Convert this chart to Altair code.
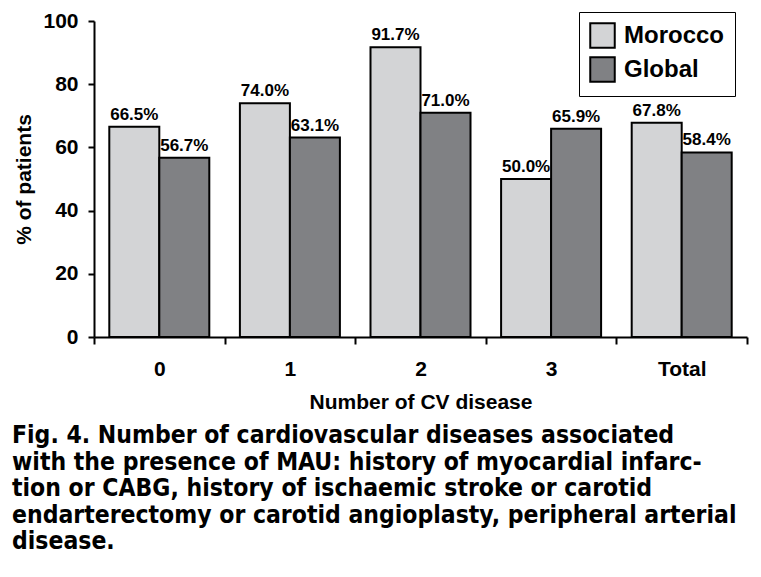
import altair as alt
import pandas as pd

categories = ["0", "1", "2", "3", "Total"]
morocco = [66.5, 74.0, 91.7, 50.0, 67.8]
global_vals = [56.7, 63.1, 71.0, 65.9, 58.4]
series = ["Morocco", "Global"]
colors = ["#d3d4d6", "#808184"]
y_ticks = [0, 20, 40, 60, 80, 100]
caption = [
    "Fig. 4. Number of cardiovascular diseases associated",
    "with the presence of MAU: history of myocardial infarc-",
    "tion or CABG, history of ischaemic stroke or carotid",
    "endarterectomy or carotid angioplasty, peripheral arterial",
    "disease.",
]

rows = []
for c, m, g in zip(categories, morocco, global_vals):
    rows.append({"cat": c, "series": "Morocco", "value": m, "label": f"{m:.1f}%"})
    rows.append({"cat": c, "series": "Global", "value": g, "label": f"{g:.1f}%"})
df = pd.DataFrame(rows)

FONT = "Liberation Sans"

x = alt.X("cat:N", sort=categories,
          scale=alt.Scale(paddingInner=0, paddingOuter=0),
          axis=alt.Axis(title="Number of CV disease", labelAngle=0, tickBand="extent",
                        labelFontSize=21, labelFont=FONT, labelFontWeight="bold",
                        labelColor="black", labelPadding=14,
                        titleFontSize=21, titleFont=FONT, titleFontWeight="bold",
                        titleColor="black", titlePadding=12,
                        tickSize=7, tickWidth=2, tickColor="black",
                        domainColor="black", domainWidth=2))
xo = alt.XOffset("series:N", sort=series,
                 scale=alt.Scale(paddingInner=0, paddingOuter=0.306))

bars = alt.Chart(df).mark_bar(stroke="black", strokeWidth=2).encode(
    x=x,
    xOffset=xo,
    y=alt.Y("value:Q", scale=alt.Scale(domain=[0, 100], nice=False),
            axis=alt.Axis(title="% of patients", values=y_ticks, grid=False,
                          labelFontSize=21, labelFont=FONT, labelFontWeight="bold",
                          labelColor="black", labelPadding=10,
                          titleFontSize=21, titleFont=FONT, titleFontWeight="bold",
                          titleColor="black", titlePadding=8,
                          tickSize=6, tickWidth=2, tickColor="black",
                          domainColor="black", domainWidth=2)),
    fill=alt.Fill("series:N", sort=series,
                  scale=alt.Scale(domain=series, range=colors),
                  legend=alt.Legend(title=None, orient="none", legendX=485, legendY=-9,
                                    symbolType="square", symbolSize=600,
                                    symbolStrokeColor="black", symbolStrokeWidth=2,
                                    labelFontSize=24, labelFont=FONT, labelFontWeight="bold",
                                    labelColor="black", labelOffset=8, rowPadding=1,
                                    strokeColor="black", fillColor="white",
                                    padding=10, labelLimit=300)),
)

labels = alt.Chart(df).mark_text(
    fontSize=17, font=FONT, fontWeight="bold", color="black",
    baseline="alphabetic", dy=-7
).encode(
    x=alt.X("cat:N", sort=categories),
    xOffset=alt.XOffset("series:N", sort=series),
    y="value:Q",
    text="label:N",
)

chart = (bars + labels).properties(
    width=653, height=316,
    autosize=alt.AutoSizeParams(type="none"),
    padding={"left": 86, "top": 13, "right": 6, "bottom": 228},
    title=alt.TitleParams(text=caption, orient="bottom", anchor="start", frame="group",
                          dx=-82, offset=12, fontSize=24.5, lineHeight=26.5,
                          font="DejaVu Sans Condensed, Liberation Sans, sans-serif",
                          fontWeight="bold", color="black"),
).configure_view(stroke=None)

chart.save("out.html", embed_options={"renderer": "svg", "actions": False})
